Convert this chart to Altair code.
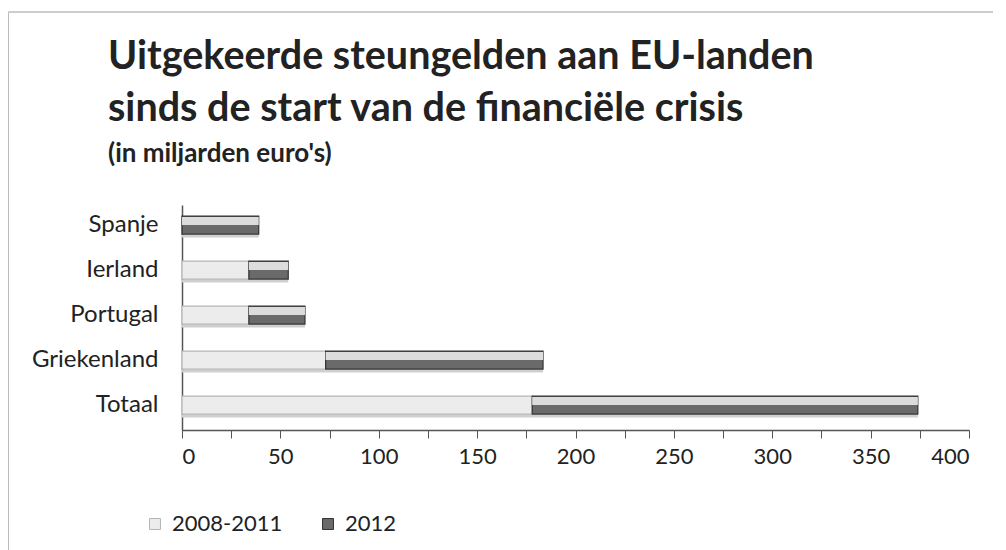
import altair as alt
import pandas as pd

countries = ["Spanje", "Ierland", "Portugal", "Griekenland", "Totaal"]
v_2008_2011 = [0, 34, 34, 73, 178]
v_2012 = [39, 20, 28.5, 110.5, 196]
series = ["2008-2011", "2012"]
x_ticks = [0, 25, 50, 75, 100, 125, 150, 175, 200, 225, 250, 275, 300, 325, 350, 375, 400]

rows = []
for c, a, b in zip(countries, v_2008_2011, v_2012):
    rows.append({"land": c, "periode": series[0], "waarde": a, "volg": 0})
    rows.append({"land": c, "periode": series[1], "waarde": b, "volg": 1})
df = pd.DataFrame(rows)

FONT = "Lato"

base = alt.Chart(df).transform_stack(
    stack="waarde", groupby=["land"], as_=["x0", "x1"],
    sort=[alt.SortField("volg", order="ascending")]
)

y_scale = alt.Scale(paddingInner=0.6, paddingOuter=0.3, align=0.41)

y_enc = alt.Y("land:N", sort=countries, title=None, scale=y_scale,
              axis=alt.Axis(labelFont=FONT, labelFontSize=24, labelColor="#222",
                            labelPadding=24, ticks=False, domainColor="#555",
                            domainWidth=1.5))
x_enc = alt.X("x0:Q", title=None,
              scale=alt.Scale(domain=[0, 400], nice=False),
              axis=alt.Axis(values=x_ticks, labelFont=FONT, labelFontSize=22,
                            labelExpr="datum.value % 50 == 0 ? datum.label : ''",
                            labelColor="#222", labelPadding=8, tickSize=8,
                            tickColor="#555", domainColor="#555", grid=False,
                            domainWidth=1.5, labelOverlap=False))

shadow = base.mark_bar(fill="#cfcfcf", height=3, yOffset=11).encode(
    y=alt.Y("land:N", sort=countries, scale=y_scale), x=alt.X("x0:Q"), x2="x1:Q")

bars = base.mark_bar(strokeWidth=1.2).encode(
    y=y_enc,
    x=x_enc,
    x2="x1:Q",
    fill=alt.Fill("periode:N", scale=alt.Scale(domain=series, range=["#ececec", "#6a6a6a"]),
                  legend=alt.Legend(title=None, orient="none", legendX=-38, legendY=308,
                                    direction="horizontal", symbolType="square",
                                    symbolSize=120, symbolStrokeWidth=1,
                                    labelFont=FONT, labelFontSize=22, labelColor="#222",
                                    columnPadding=34, labelOffset=6,
                                    symbolStrokeColor="#555")),
    stroke=alt.Stroke("periode:N", scale=alt.Scale(domain=series, range=["#b5b5b5", "#333333"]),
                      legend=None),
)

highlight = base.transform_filter(alt.datum.periode == "2012").mark_bar(
    fill="#dcdcdc", height=8, yOffset=-4
).encode(y=alt.Y("land:N", sort=countries, scale=y_scale), x=alt.X("x0:Q"), x2="x1:Q")

frame_left = alt.Chart(df).mark_rule(color="#bbbbbb", strokeWidth=1.5).encode(
    x=alt.value(-174), y=alt.value(-193), y2=alt.value(345))
frame_top = alt.Chart(df).mark_rule(color="#cccccc", strokeWidth=1.5).encode(
    x=alt.value(-174), x2=alt.value(830), y=alt.value(-193))

chart = alt.layer(frame_left, frame_top, shadow, bars, highlight).properties(
    width=787, height=225,
    padding={"left": 174, "top": 197, "right": 24, "bottom": 120},
    autosize=alt.AutoSizeParams(type="none"),
    background="white",
    title=alt.Title(
        ["Uitgekeerde steungelden aan EU-landen", "sinds de start van de financiële crisis"],
        subtitle="(in miljarden euro's)",
        anchor="start", frame="group", dx=-74, dy=195, offset=38,
        font=FONT, fontSize=39.5, fontWeight="bold", color="#222", lineHeight=52,
        subtitleFont=FONT, subtitleFontSize=26, subtitleFontWeight="bold",
        subtitleColor="#222", subtitlePadding=12,
    ),
).configure_view(stroke=None)

chart.save("out.html", embed_options={"renderer": "svg", "actions": False})
